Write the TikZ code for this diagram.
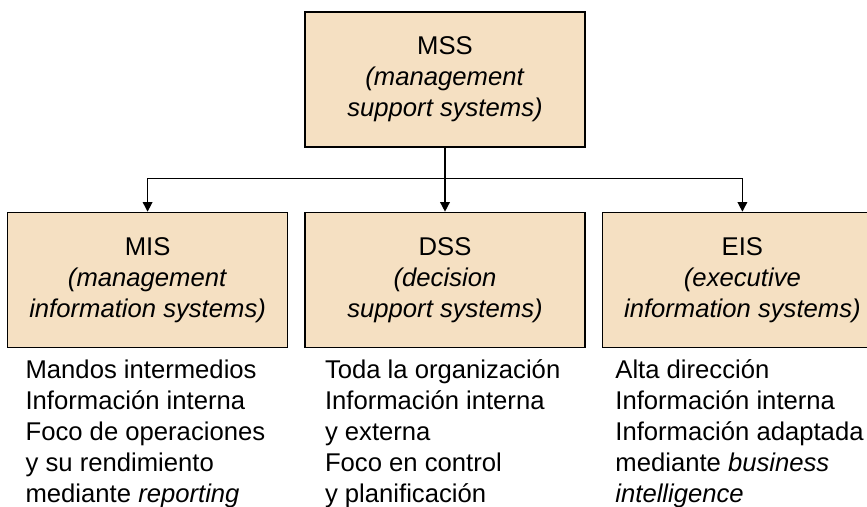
\documentclass[tikz,border=0pt]{standalone}
\usepackage{fontspec}
\setmainfont{Liberation Sans}
\usepackage{xcolor}
\usetikzlibrary{arrows.meta, positioning, calc}

\definecolor{boxfill}{RGB}{245,224,194}

\begin{document}
\begin{tikzpicture}[>={Triangle[width=5.5pt,length=5.5pt]}, line width=0.8pt, node distance=1.28cm and 0.32cm,
  box/.style={draw, fill=boxfill, minimum width=5.6cm, minimum height=2.7cm, inner sep=0pt, align=center,
    font=\fontsize{14.6}{17.6}\selectfont},
  notes/.style={anchor=north west, inner sep=0pt, align=left, font=\fontsize{14.6}{17.6}\selectfont}]
  \useasboundingbox (0,0) rectangle (17.34,-10.14);
  \node[box] (MSS) at (8.9,-1.59) {MSS\\\textit{(management}\\\textit{support systems)}};
  \node[box, below=of MSS] (DSS) {DSS\\\textit{(decision}\\\textit{support systems)}};
  \node[box, left=of DSS] (MIS) {MIS\\\textit{(management}\\\textit{information systems)}};
  \node[box, right=of DSS] (EIS) {EIS\\\textit{(executive}\\\textit{information systems)}};
  \draw[->] (MSS) -- (DSS);
  \draw[->] (MSS.south) -- ++(0,-0.62) -| (MIS.north);
  \draw[->] (MSS.south) -- ++(0,-0.62) -| (EIS.north);
  \node[notes, below right=0.22cm and 0.36cm of MIS.south west] (misnotes)
    {Mandos intermedios\\Información interna\\Foco de operaciones\\y su rendimiento\\mediante \textit{reporting}};
  \node[notes, below right=0.22cm and 0.40cm of DSS.south west] (dssnotes)
    {Toda la organización\\Información interna\\y externa\\Foco en control\\y planificación};
  \node[notes, below right=0.22cm and 0.26cm of EIS.south west] (eisnotes)
    {Alta dirección\\Información interna\\Información adaptada\\mediante \textit{business}\\\textit{intelligence}};
\end{tikzpicture}
\end{document}
